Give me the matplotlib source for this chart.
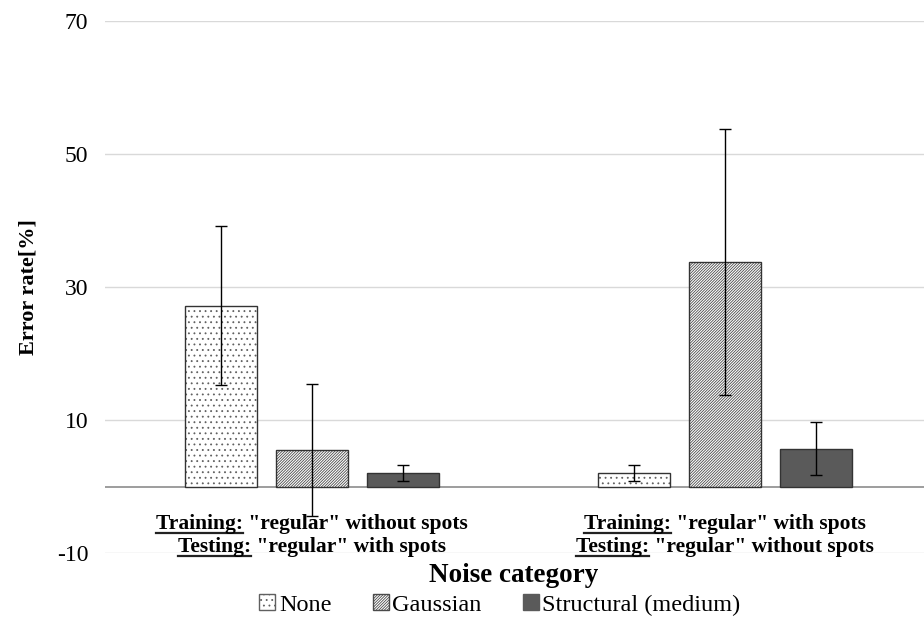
import numpy as np
import matplotlib
matplotlib.use("Agg")
import matplotlib.pyplot as plt
from matplotlib.patches import Patch

plt.rcParams['font.family'] = ['Liberation Serif', 'DejaVu Serif']
plt.rcParams['hatch.linewidth'] = 0.6

# error rates per noise type, one value per train/test setting
groups = ['g1', 'g2']
series_names = ['None', 'Gaussian', 'Structural (medium)']
means = {
    'None': [27.2, 2.0],
    'Gaussian': [5.5, 33.8],
    'Structural (medium)': [2.0, 5.7],
}
errors = {
    'None': [11.9, 1.2],
    'Gaussian': [9.9, 20.0],
    'Structural (medium)': [1.2, 4.0],
}
group_lines = [
    [('Training:', ' "regular" without spots'), ('Testing:', ' "regular" with spots')],
    [('Training:', ' "regular" with spots'), ('Testing:', ' "regular" without spots')],
]
yticks = [-10, 10, 30, 50, 70]

styles = {
    'None': dict(facecolor='white', hatchcolor='#606060', hatch='...'),
    'Gaussian': dict(facecolor='white', hatchcolor='#4a4a4a', hatch='/' * 12),
    'Structural (medium)': dict(facecolor='#5a5a5a', hatchcolor='#5a5a5a', hatch=None),
}

W, H = 924, 617
fig = plt.figure(figsize=(W / 100, H / 100), dpi=100)
ax_left, ax_right = 105, 924
ax_top, ax_bot = 21, 553
ax = fig.add_axes([ax_left / W, 1 - ax_bot / H, (ax_right - ax_left) / W, (ax_bot - ax_top) / H])

x = np.arange(len(groups))
width = 0.174
offset = 0.22
for i, name in enumerate(series_names):
    xs = x + (i - 1) * offset
    st = styles[name]
    # fill + hatch first, then a separate dark outline
    ax.bar(xs, means[name], width, facecolor=st['facecolor'], edgecolor=st['hatchcolor'],
           hatch=st['hatch'], linewidth=0, zorder=3)
    ax.bar(xs, means[name], width, facecolor='none', edgecolor='#333333',
           linewidth=1.0, zorder=3.5)
    ax.errorbar(xs, means[name], yerr=errors[name], fmt='none', ecolor='black',
                elinewidth=1.0, capsize=4, capthick=1.0, zorder=4)

ax.set_xlim(-0.5, 1.5 - 8 / 413.5)
ax.set_ylim(-10, 70)
ax.set_yticks(yticks)
ax.set_yticklabels([str(t) for t in yticks], fontsize=17)
ax.tick_params(axis='y', length=0, pad=12)
ax.set_xticks([])
ax.grid(axis='y', color='#d9d9d9', linewidth=1.0, zorder=0)
ax.axhline(0, color='#8c8c8c', linewidth=1.2, zorder=2)
for sp in ax.spines.values():
    sp.set_visible(False)

ax.set_ylabel('Error rate[%]', fontsize=16, fontweight='bold', labelpad=13)

# category labels with underlined prefixes
fig.canvas.draw()
renderer = fig.canvas.get_renderer()
line_y = [524, 547]
cat_fs = 15.5
for gi, lines in enumerate(group_lines):
    cx = ax.transData.transform((x[gi], 0))[0]
    for li, (pre, rest) in enumerate(lines):
        ypix = H - line_y[li]
        t = fig.text(cx / W, ypix / H, pre + rest, ha='center', va='center',
                     fontsize=cat_fs, fontweight='bold')
        bb = t.get_window_extent(renderer)
        tp = fig.text(0, 0, pre, fontsize=cat_fs, fontweight='bold', alpha=0)
        pw = tp.get_window_extent(renderer).width
        tp.remove()
        uy = bb.y0 + 1.5
        fig.add_artist(plt.Line2D([bb.x0 / W, (bb.x0 + pw) / W], [uy / H, uy / H],
                                  color='#222222', linewidth=1.6))

fig.text(514 / W, 1 - 576 / H, 'Noise category', ha='center', va='center',
         fontsize=19.5, fontweight='bold')

handles = [Patch(facecolor=styles[n]['facecolor'], edgecolor=styles[n]['hatchcolor'],
                 hatch=styles[n]['hatch'], label=n) for n in series_names]
fig.legend(handles=handles, loc='center', bbox_to_anchor=(500 / W, 1 - 605 / H), ncol=3,
           frameon=False, fontsize=17.5, handlelength=0.65, handleheight=0.65,
           handletextpad=0.15, columnspacing=1.7)

fig.savefig('out.png', dpi=100)
